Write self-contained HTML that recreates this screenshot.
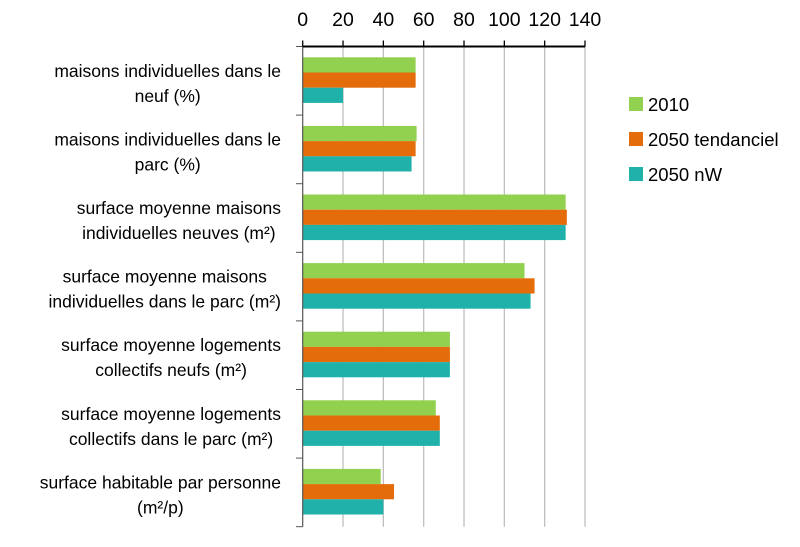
<!DOCTYPE html>
<html><head><meta charset="utf-8"><style>
body{margin:0;background:#fff;}
svg text{font-family:"Liberation Sans",sans-serif;fill:#000;}
</style></head><body>
<svg id="chart" width="800" height="542" viewBox="0 0 800 542" xmlns="http://www.w3.org/2000/svg">
<g id="grid"></g>
<g id="bars"></g>
<g id="axes"></g>
<g id="labels"></g>
<g id="legend"></g>
</svg>
<script>
const categories = [
 ["maisons individuelles dans le","neuf (%)"],
 ["maisons individuelles dans le","parc (%)"],
 ["surface moyenne maisons","individuelles neuves (m²)"],
 ["surface moyenne maisons","individuelles dans le parc (m²)"],
 ["surface moyenne logements","collectifs neufs (m²)"],
 ["surface moyenne logements","collectifs dans le parc (m²)"],
 ["surface habitable par personne","(m²/p)"]
];
const seriesNames = ["2010","2050 tendanciel","2050 nW"];
const series2010 = [56,56.5,130.4,110,73,66,38.7];
const series2050t = [56,56,131,115,73,68,45.3];
const series2050nW = [20,54,130.4,113,73,68,40];
const tickValues = [0,20,40,60,80,100,120,140];
const colors = ["#92d050","#e46c0a","#20b2aa"];

const NS="http://www.w3.org/2000/svg";
const x0=302.7,x1=585,vmax=140,yTop=46.5,yBot=526.7;
const xs=v=>x0+(v/vmax)*(x1-x0);
const band=(yBot-yTop)/categories.length;
const barH=15.2, groupOff=10.8;
function mk(tag,attrs,parent){const e=document.createElementNS(NS,tag);for(const k in attrs)e.setAttribute(k,attrs[k]);parent.appendChild(e);return e;}
const grid=document.getElementById('grid'),bars=document.getElementById('bars'),axes=document.getElementById('axes'),labels=document.getElementById('labels'),legend=document.getElementById('legend');
tickValues.forEach(t=>{
 const x=xs(t);
 if(t>0){const g=mk('line',{x1:x,x2:x,y1:yTop,y2:yBot,stroke:'#bfbfbf','stroke-width':1.3},grid);
 
 }
 const tk=mk('line',{x1:x,x2:x,y1:yTop-6,y2:yTop,stroke:'#000','stroke-width':1.3},axes);
 
 
 const tl=mk('text',{x:x,y:26,'text-anchor':'middle','font-size':19.5},axes);tl.textContent=t;
 
 
});
const all=[series2010,series2050t,series2050nW];
categories.forEach((c,i)=>{
 const by=yTop+i*band;
 all.forEach((s,j)=>{
  const r=mk('rect',{x:x0,y:by+groupOff+j*barH,width:xs(s[i])-x0,height:barH,fill:colors[j]},bars);
  
  
 });
 const mid=by+band/2;
 const t1=mk('text',{x:281,y:mid-4,'font-size':17.5,'text-anchor':'end'},labels);
 t1.textContent=c[0];
 
 
 const t2=mk('text',{x:281,y:mid+21,'font-size':17.5,'text-anchor':'end'},labels);
 t2.textContent=c[1];
 
 
 const w1=t1.getComputedTextLength(),w2=t2.getComputedTextLength();
 const w=Math.max(w1,w2),cx=281-w/2;
 t1.setAttribute('x',cx);t1.setAttribute('text-anchor','middle');
 t2.setAttribute('x',cx);t2.setAttribute('text-anchor','middle');
});
for(let i=0;i<=categories.length;i++){
 const y=yTop+i*band;
 const tk=mk('line',{x1:296,x2:x0,y1:y,y2:y,stroke:'#555','stroke-width':1},axes);
 
 
}
const ya=mk('line',{x1:x0,x2:x0,y1:yTop,y2:yBot,stroke:'#555','stroke-width':1.2},axes);


const xa=mk('line',{x1:x0,x2:x1,y1:yTop,y2:yTop,stroke:'#000','stroke-width':2},axes);


seriesNames.forEach((n,j)=>{
 const cy=104+j*35;
 const g=mk('g',{},legend);
 
 
 mk('rect',{x:629,y:cy-7,width:14,height:14,fill:colors[j]},g);
 const t=mk('text',{x:648,y:cy+7,'font-size':18.5},g);t.textContent=n;
});
</script>
</body></html>
